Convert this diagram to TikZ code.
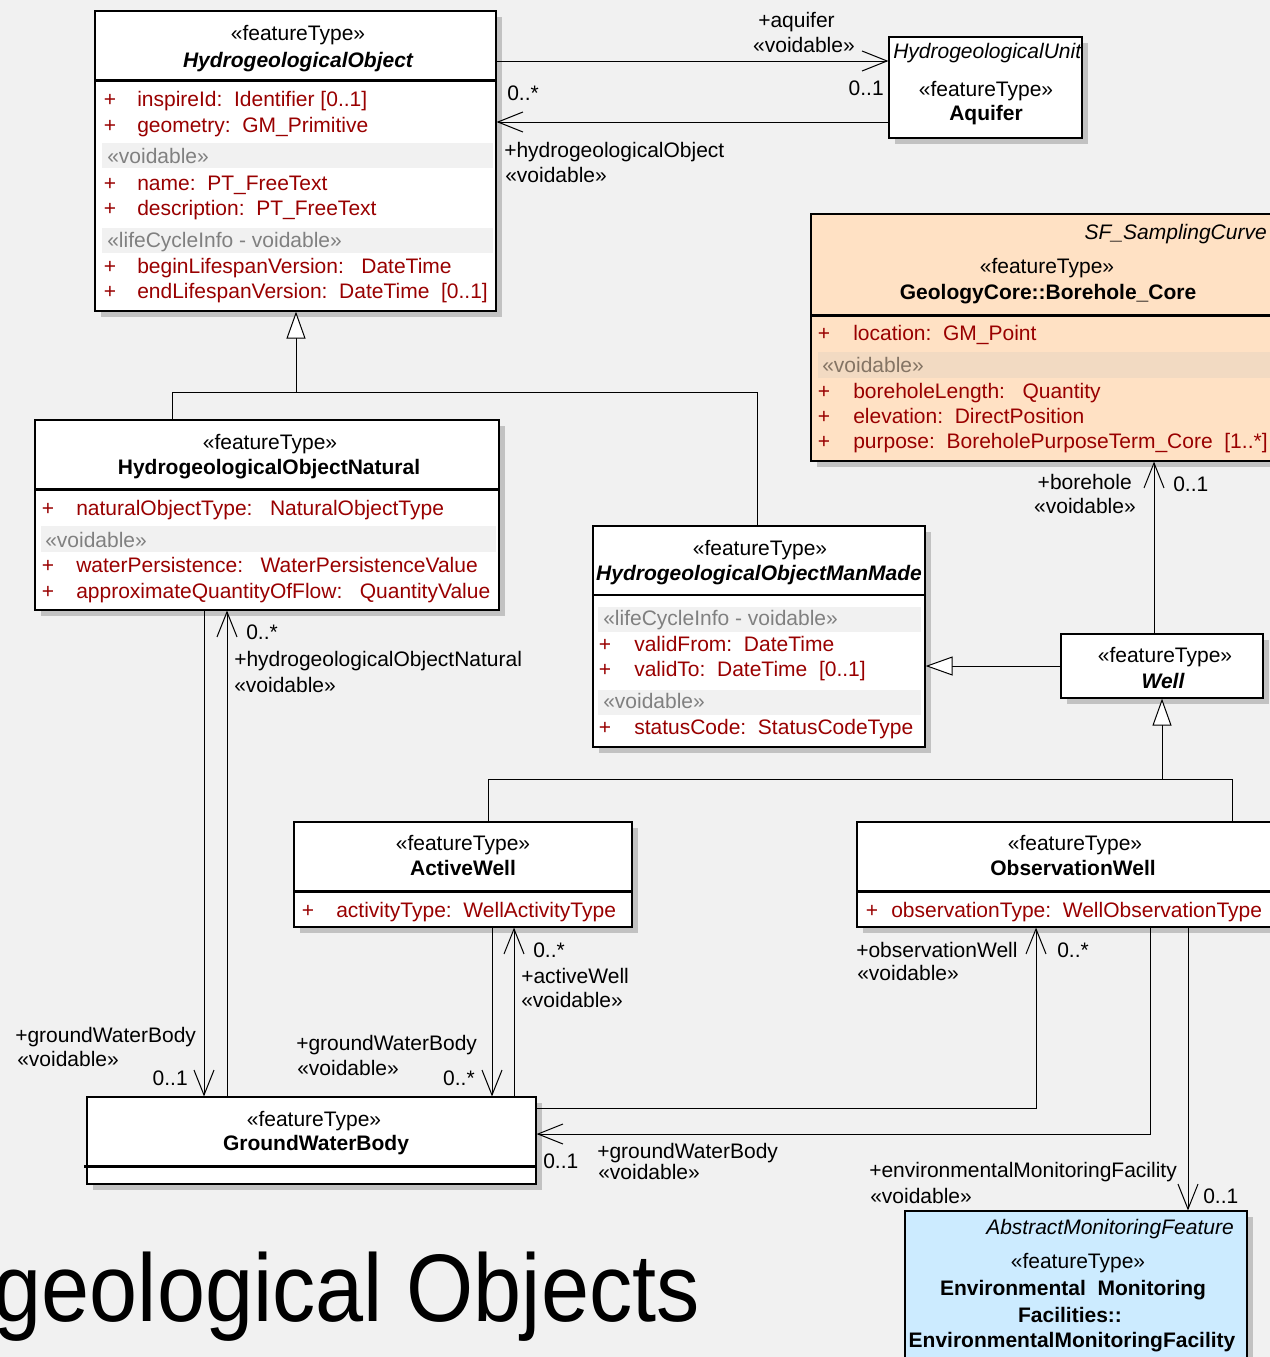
\documentclass[tikz,border=0pt]{standalone}
\usepackage{fontspec}
\usepackage{graphicx}
\setmainfont{Liberation Sans}
\usetikzlibrary{arrows.meta,fit,shadows}
\definecolor{bg}{HTML}{F1F1F1}
\definecolor{attr}{HTML}{990000}
\definecolor{band}{HTML}{F1F1F1}
\definecolor{bandtxt}{HTML}{808080}
\definecolor{peach}{HTML}{FFE1C4}
\definecolor{peachband}{HTML}{F2DAC2}
\definecolor{peachtxt}{HTML}{847464}
\definecolor{lblue}{HTML}{CCEBFF}
\definecolor{shadowc}{HTML}{C2C2C2}
\begin{document}
\begin{tikzpicture}[x=0.75pt,y=-0.75pt,
  execute at begin picture={\fontsize{15.75}{19}\selectfont},
  cls/.style={draw=black, line width=0.9pt, fill=white, inner sep=0pt,
    drop shadow={shadow xshift=4.5pt, shadow yshift=-4.5pt, fill=shadowc, opacity=1}},
  st/.style={anchor=base, inner sep=0pt},
  cn/.style={anchor=base, inner sep=0pt, font=\bfseries},
  cni/.style={anchor=base, inner sep=0pt, font=\bfseries\itshape},
  att/.style={anchor=base west, inner sep=0pt, text=attr},
  plus/.style={anchor=base, inner sep=0pt, text=attr},
  bt/.style={anchor=base west, inner sep=0pt, text=bandtxt},
  lbl/.style={anchor=base west, inner sep=0pt},
  lblr/.style={anchor=base east, inner sep=0pt},
  septhick/.style={line width=2.25pt},
  septhin/.style={line width=0.9pt},
  nav/.style={draw, line width=0.75pt, -{Straight Barb[length=18.75pt, width=15pt]}},
  gen/.style={draw, line width=0.75pt, -{Triangle[length=20.25pt, width=14.25pt, fill=white]}},
  plain/.style={draw, line width=0.75pt}
]
\fill[bg] (0,0) rectangle (1270,1357);
\useasboundingbox (0,0) rectangle (1270,1357);
\clip (0,0) rectangle (1270,1357);

% ---------- helper coordinates ----------
\coordinate (ya1) at (0,61);
\coordinate (ya2) at (0,122);
\coordinate (g1) at (296,392);
\coordinate (x172) at (172,0);
\coordinate (x757) at (757,0);
\coordinate (yw) at (0,666);
\coordinate (xb) at (1154,0);
\coordinate (g2) at (1162,779);
\coordinate (x488) at (488,0);
\coordinate (x1232) at (1232,0);
\coordinate (x204) at (204,0);
\coordinate (x227) at (227,0);
\coordinate (x492) at (492,0);
\coordinate (x514) at (514,0);
\coordinate (x1036) at (1036,0);
\coordinate (x1150) at (1150,0);
\coordinate (x1188) at (1188,0);
\coordinate (y1108) at (0,1108);
\coordinate (y1134) at (0,1134);

% ---------- HydrogeologicalObject ----------
\node[cls, fit={(95,11) (496,311)}] (ho) {};
\node[st] (ho-s) at (298,40) {«featureType»};
\node[cni] (ho-n) at (298,67) {HydrogeologicalObject};
\draw[septhick] (95,80) -- (496,80);
\fill[band] (102,143) rectangle (493,168);
\fill[band] (102,228) rectangle (493,253);
\node[plus] (ho-p1) at (110,106) {+};
\node[att] (ho-a1) at (137,106) {inspireId:~~Identifier [0..1]};
\node[plus] (ho-p2) at (110,132) {+};
\node[att] (ho-a2) at (137,132) {geometry:~~GM\_Primitive};
\node[bt] (ho-b1) at (107,163) {«voidable»};
\node[plus] (ho-p3) at (110,190) {+};
\node[att] (ho-a3) at (137,190) {name:~~PT\_FreeText};
\node[plus] (ho-p4) at (110,215) {+};
\node[att] (ho-a4) at (137,215) {description:~~PT\_FreeText};
\node[bt] (ho-b2) at (107,247) {«lifeCycleInfo - voidable»};
\node[plus] (ho-p5) at (110,273) {+};
\node[att] (ho-a5) at (137,273) {beginLifespanVersion:~~~DateTime};
\node[plus] (ho-p6) at (110,298) {+};
\node[att] (ho-a6) at (137,298) {endLifespanVersion:~~DateTime~~[0..1]};

% ---------- Aquifer ----------
\node[cls, fit={(889,37) (1082,138)}] (aq) {};
\node[anchor=base west, inner sep=0pt, font=\itshape] (aq-p) at (893,58) {HydrogeologicalUnit};
\node[st] (aq-s) at (986,96) {«featureType»};
\node[cn] (aq-n) at (986,120) {Aquifer};

% ---------- Borehole_Core ----------
\node[cls, fill=peach, fit={(811,214) (1292,461)}] (bh) {};
\node[anchor=base east, inner sep=0pt, font=\itshape] (bh-p) at (1267,239) {SF\_SamplingCurve};
\node[st] (bh-s) at (1047,273) {«featureType»};
\node[cn] (bh-n) at (1048,299) {GeologyCore::Borehole\_Core};
\draw[septhick] (811,315) -- (1292,315);
\fill[peachband] (818,352) rectangle (1292,378);
\node[plus] (bh-p1) at (824,340) {+};
\node[att] (bh-a1) at (853,340) {location:~~GM\_Point};
\node[anchor=base west, inner sep=0pt, text=peachtxt] (bh-b1) at (822,372) {«voidable»};
\node[plus] (bh-p2) at (824,398) {+};
\node[att] (bh-a2) at (853,398) {boreholeLength:~~~Quantity};
\node[plus] (bh-p3) at (824,423) {+};
\node[att] (bh-a3) at (853,423) {elevation:~~DirectPosition};
\node[plus] (bh-p4) at (824,448) {+};
\node[att] (bh-a4) at (853,448) {purpose:~~BoreholePurposeTerm\_Core~~[1..*]};

% ---------- HydrogeologicalObjectNatural ----------
\node[cls, fit={(35,420) (499,610)}] (hon) {};
\node[st] (hon-s) at (270,449) {«featureType»};
\node[cn] (hon-n) at (269,474) {HydrogeologicalObjectNatural};
\draw[septhick] (35,489) -- (499,489);
\fill[band] (41,526) rectangle (496,552);
\node[plus] (hon-p1) at (48,515) {+};
\node[att] (hon-a1) at (76,515) {naturalObjectType:~~~NaturalObjectType};
\node[bt] (hon-b1) at (45,547) {«voidable»};
\node[plus] (hon-p2) at (48,572) {+};
\node[att] (hon-a2) at (76,572) {waterPersistence:~~~WaterPersistenceValue};
\node[plus] (hon-p3) at (48,598) {+};
\node[att] (hon-a3) at (76,598) {approximateQuantityOfFlow:~~~QuantityValue};

% ---------- HydrogeologicalObjectManMade ----------
\node[cls, fit={(593,526) (925,747)}] (homm) {};
\node[st] (homm-s) at (760,555) {«featureType»};
\node[cni] (homm-n) at (759,580) {HydrogeologicalObjectManMade};
\draw[septhin] (593,595) -- (925,595);
\fill[band] (598,607) rectangle (921,632);
\fill[band] (598,690) rectangle (921,715);
\node[bt] (homm-b1) at (603,625) {«lifeCycleInfo - voidable»};
\node[plus] (homm-p1) at (605,651) {+};
\node[att] (homm-a1) at (634,651) {validFrom:~~DateTime};
\node[plus] (homm-p2) at (605,676) {+};
\node[att] (homm-a2) at (634,676) {validTo:~~DateTime~~[0..1]};
\node[bt] (homm-b2) at (603,708) {«voidable»};
\node[plus] (homm-p3) at (605,734) {+};
\node[att] (homm-a3) at (634,734) {statusCode:~~StatusCodeType};

% ---------- Well ----------
\node[cls, fit={(1061,634) (1263,698)}] (well) {};
\node[st] (well-s) at (1165,662) {«featureType»};
\node[cni] (well-n) at (1163,688) {Well};

% ---------- ActiveWell ----------
\node[cls, fit={(294,822) (632,927)}] (aw) {};
\node[st] (aw-s) at (463,850) {«featureType»};
\node[cn] (aw-n) at (463,875) {ActiveWell};
\draw[septhick] (294,891) -- (632,891);
\node[plus] (aw-p1) at (308,917) {+};
\node[att] (aw-a1) at (336,917) {activityType:~~WellActivityType};

% ---------- ObservationWell ----------
\node[cls, fit={(857,822) (1292,927)}] (ow) {};
\node[st] (ow-s) at (1075,850) {«featureType»};
\node[cn] (ow-n) at (1073,875) {ObservationWell};
\draw[septhick] (857,891) -- (1292,891);
\node[plus] (ow-p1) at (872,917) {+};
\node[att] (ow-a1) at (891,917) {observationType:~~WellObservationType};

% ---------- GroundWaterBody ----------
\node[cls, fit={(87,1097) (536,1184)}] (gwb) {};
\node[st] (gwb-s) at (314,1126) {«featureType»};
\node[cn] (gwb-n) at (316,1150) {GroundWaterBody};
\draw[septhick] (84,1166) -- (536,1166);

% ---------- EnvironmentalMonitoringFacility ----------
\node[cls, fill=lblue, fit={(905,1211) (1247,1385)}] (emf) {};
\node[anchor=base east, inner sep=0pt, font=\itshape] (emf-p) at (1234,1234) {AbstractMonitoringFeature};
\node[st] (emf-s) at (1078,1268) {«featureType»};
\node[cn] (emf-n1) at (1073,1295) {Environmental~~Monitoring};
\node[cn] (emf-n2) at (1070,1322) {Facilities::};
\node[cn] (emf-n3) at (1072,1347) {EnvironmentalMonitoringFacility};

% ---------- title ----------
\node[anchor=base east, inner sep=0pt, font=\fontsize{72}{80}\selectfont] (title) at (700,1321) {\scalebox{0.9}[1]{geological Objects}};

% ---------- generalizations ----------
\draw[plain] (hon.north -| x172) -- (x172 |- g1) -- (x757 |- g1) -- (homm.north -| x757);
\draw[gen] (g1) -- (ho.south -| g1);
\draw[gen] (well.west |- yw) -- (homm.east |- yw);
\draw[plain] (aw.north -| x488) -- (x488 |- g2) -- (x1232 |- g2) -- (ow.north -| x1232);
\draw[gen] (g2) -- (well.south -| g2);

% ---------- associations ----------
\draw[nav] (ho.east |- ya1) -- (aq.west |- ya1);
\draw[nav] (aq.west |- ya2) -- (ho.east |- ya2);
\node[lbl] (l-aq1) at (758,27) {+aquifer};
\node[lblr] (l-aq2) at (855,52) {«voidable»};
\node[lblr] (l-aq3) at (884,95) {0..1};
\node[lbl] (l-ho1) at (507,100) {0..*};
\node[lbl] (l-ho2) at (504,157) {+hydrogeologicalObject};
\node[lbl] (l-ho3) at (505,182) {«voidable»};

\draw[nav] (well.north -| xb) -- (bh.south -| xb);
\node[lblr] (l-bh1) at (1132,489) {+borehole};
\node[lblr] (l-bh2) at (1136,513) {«voidable»};
\node[lbl] (l-bh3) at (1173,491) {0..1};

\draw[nav] (hon.south -| x204) -- (gwb.north -| x204);
\draw[nav] (gwb.north -| x227) -- (hon.south -| x227);
\node[lbl] (l-hn1) at (246,639) {0..*};
\node[lbl] (l-hn2) at (234,666) {+hydrogeologicalObjectNatural};
\node[lbl] (l-hn3) at (234,692) {«voidable»};
\node[lbl] (l-g1a) at (15,1042) {+groundWaterBody};
\node[lbl] (l-g1b) at (17,1066) {«voidable»};
\node[lblr] (l-g1c) at (188,1085) {0..1};

\draw[nav] (aw.south -| x492) -- (gwb.north -| x492);
\draw[nav] (gwb.north -| x514) -- (aw.south -| x514);
\node[lbl] (l-aw1) at (533,957) {0..*};
\node[lbl] (l-aw2) at (521,983) {+activeWell};
\node[lbl] (l-aw3) at (521,1007) {«voidable»};
\node[lbl] (l-g2a) at (296,1050) {+groundWaterBody};
\node[lbl] (l-g2b) at (297,1075) {«voidable»};
\node[lblr] (l-g2c) at (475,1085) {0..*};

\draw[nav] (gwb.east |- y1108) -| (ow.south -| x1036);
\draw[nav] (ow.south -| x1150) |- (gwb.east |- y1134);
\node[lbl] (l-ow1) at (856,957) {+observationWell};
\node[lbl] (l-ow2) at (857,980) {«voidable»};
\node[lbl] (l-ow3) at (1057,957) {0..*};
\node[lbl] (l-g3a) at (543,1168) {0..1};
\node[lbl] (l-g3b) at (597,1158) {+groundWaterBody};
\node[lbl] (l-g3c) at (598,1179) {«voidable»};

\draw[nav] (ow.south -| x1188) -- (emf.north -| x1188);
\node[lbl] (l-em1) at (869,1177) {+environmentalMonitoringFacility};
\node[lbl] (l-em2) at (870,1203) {«voidable»};
\node[lbl] (l-em3) at (1203,1203) {0..1};
\end{tikzpicture}
\end{document}
